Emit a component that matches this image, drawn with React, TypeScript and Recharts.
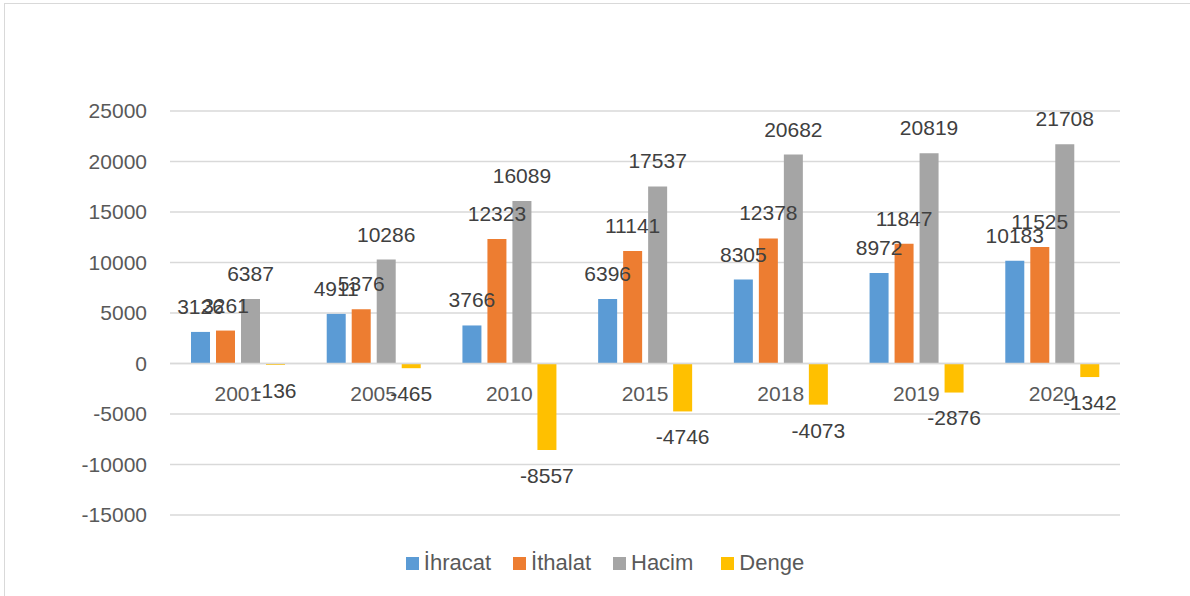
import React from 'react';
import {
  BarChart,
  Bar,
  XAxis,
  YAxis,
  CartesianGrid,
  Legend,
  LabelList,
  ReferenceLine,
} from 'recharts';

const years = ['2001', '2005', '2010', '2015', '2018', '2019', '2020'];
const ihracat = [3126, 4911, 3766, 6396, 8305, 8972, 10183];
const ithalat = [3261, 5376, 12323, 11141, 12378, 11847, 11525];
const hacim = [6387, 10286, 16089, 17537, 20682, 20819, 21708];
const denge = [-136, -465, -8557, -4746, -4073, -2876, -1342];
const yTicks = [-15000, -10000, -5000, 0, 5000, 10000, 15000, 20000, 25000];

const data = years.map((year, i) => ({
  year,
  ihracat: ihracat[i],
  ithalat: ithalat[i],
  hacim: hacim[i],
  denge: denge[i],
}));

const W = 1190;
const H = 596;
const MARGIN = { top: 111, right: 70, left: 0, bottom: 0 };
const LEGEND_H = 54;
const XAXIS_H = 27;
const Y_MIN = -15000;
const Y_MAX = 25000;
const FONT = '"Liberation Sans", Arial, sans-serif';

// plot area geometry, used to put the year labels on the zero line like Excel does
const plotBottom = H - MARGIN.bottom - LEGEND_H - XAXIS_H;
const plotHeight = plotBottom - MARGIN.top;
const zeroY = MARGIN.top + (plotHeight * Y_MAX) / (Y_MAX - Y_MIN);

const series = [
  { key: 'ihracat', name: 'İhracat', color: '#5B9BD5' },
  { key: 'ithalat', name: 'İthalat', color: '#ED7D31' },
  { key: 'hacim', name: 'Hacim', color: '#A5A5A5' },
  { key: 'denge', name: 'Denge', color: '#FFC000' },
];

const YearTick = (props: any) => {
  const { x, payload } = props;
  return (
    <text
      x={x}
      y={zeroY + 37}
      textAnchor="middle"
      fill="#595959"
      fontSize={21}
      fontFamily={FONT}
    >
      {payload.value}
    </text>
  );
};

// legend in series order (recharts would sort it by name)
const LegendRow = () => (
  <div
    style={{
      display: 'flex',
      justifyContent: 'center',
      alignItems: 'center',
      paddingLeft: 112,
      paddingTop: 8,
      fontFamily: FONT,
      fontSize: 22,
      color: '#595959',
    }}
  >
    {series.map((s, i) => (
      <div
        key={s.key}
        style={{ display: 'flex', alignItems: 'center', marginRight: i === 2 ? 28 : 22 }}
      >
        <span
          style={{ width: 13, height: 13, background: s.color, display: 'inline-block', marginRight: 5 }}
        />
        <span>{s.name}</span>
      </div>
    ))}
  </div>
);

const labelStyle = { fill: '#404040', fontSize: 21, fontFamily: FONT };

export default function App() {
  return (
    <div
      style={{
        position: 'absolute',
        left: 0,
        top: 0,
        width: W,
        height: H,
        overflow: 'hidden',
        background: '#fff',
      }}
    >
      <div
        style={{
          position: 'absolute',
          left: 4,
          top: 3,
          width: W + 20,
          height: H + 20,
          border: '1.5px solid #d9d9d9',
        }}
      />
      <div style={{ position: 'absolute', left: 0, top: 0 }}>
        <BarChart
          width={W}
          height={H}
          data={data}
          margin={MARGIN}
          barSize={19}
          barGap={6}
        >
          <CartesianGrid vertical={false} stroke="#d9d9d9" strokeWidth={1.5} />
          <XAxis
            dataKey="year"
            height={XAXIS_H}
            axisLine={false}
            tickLine={false}
            tick={<YearTick />}
            interval={0}
          />
          <YAxis
            width={170}
            domain={[Y_MIN, Y_MAX]}
            ticks={yTicks}
            interval={0}
            axisLine={false}
            tickLine={false}
            tickSize={0}
            tickMargin={23}
            tick={{ fill: '#595959', fontSize: 21, fontFamily: FONT }}
          />
          <ReferenceLine y={0} stroke="#d9d9d9" strokeWidth={1.5} />
          <Legend verticalAlign="bottom" height={LEGEND_H} content={<LegendRow />} />
          {series.map((s) => (
            <Bar
              key={s.key}
              dataKey={s.key}
              name={s.name}
              fill={s.color}
              isAnimationActive={false}
            >
              <LabelList dataKey={s.key} position="top" offset={18} style={labelStyle} />
            </Bar>
          ))}
        </BarChart>
      </div>
    </div>
  );
}
